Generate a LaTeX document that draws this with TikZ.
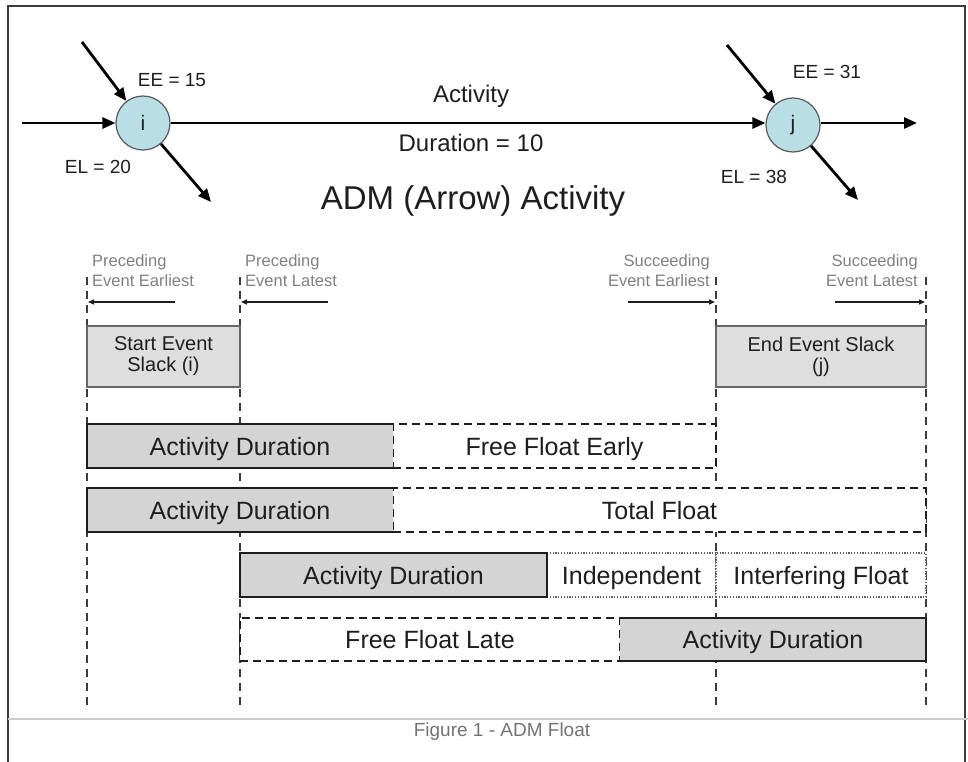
\documentclass[tikz,border=0pt]{standalone}
\usepackage{fontspec}
\setmainfont{Liberation Sans}
\usetikzlibrary{arrows.meta}
\definecolor{nodeblue}{HTML}{B9DEE6}
\definecolor{boxgray}{HTML}{D4D4D4}
\definecolor{slackgray}{HTML}{DEDEDE}
\definecolor{framegray}{HTML}{3C3C3C}
\definecolor{txtgray}{HTML}{808080}
\definecolor{dk}{HTML}{1E1E1E}
\newcommand{\fs}[2]{\fontsize{#1}{#2}\selectfont}
\tikzset{
  x=1pt, y=-1pt,
  evnode/.style={circle, draw=gray!70!black, line width=1.2pt, fill=nodeblue, minimum size=54pt, inner sep=0pt, font=\fs{21}{24}, text=dk},
  bigarrow/.style={line width=2.8pt, -{Triangle[length=13pt,width=11pt]}},
  lbl/.style={font=\fs{19}{22}, text=dk, inner sep=0pt},
  smalllbl/.style={font=\fs{16.5}{20}, text=txtgray, inner sep=0pt, align=left},
  smallarrow/.style={line width=1.4pt, draw=dk, -{Triangle[length=6pt,width=5pt]}},
  guide/.style={line width=2pt, draw=framegray, dash pattern=on 8pt off 6pt},
  basebox/.style={rectangle, inner sep=0pt, outer sep=0pt, text=dk},
  rowbox/.style={basebox, font=\fs{25}{30}, text height=18pt, text depth=0pt},
  actbox/.style={rowbox, fill=boxgray},
  slackbox/.style={basebox, fill=slackgray, draw=gray!80!black, line width=1.2pt, font=\fs{20}{21}, align=center},
  dashbox/.style={rowbox, fill=white, draw=dk, line width=1.6pt, dash pattern=on 8pt off 5pt},
  dotbox/.style={rowbox, fill=white, draw=gray!75!black, line width=1.4pt, dash pattern=on 1.2pt off 1.6pt},
  actedge/.style={line width=2.4pt, draw=dk},
}
\begin{document}
\begin{tikzpicture}
\useasboundingbox (0,0) rectangle (968,762);
% frame
\draw[framegray, line width=2pt] (8,762) -- (8,6) -- (965,6) -- (965,762);
\draw[gray!40, line width=1.5pt] (8,719) -- (968,719);
\node[font=\fs{19}{22}, text=gray!90!black] (cap) at (502,732) {Figure 1 - ADM Float};

% top network
\node[evnode] (i) at (143,123) {i};
\node[evnode] (j) at (793,125) {j};
\coordinate (iin1) at (22,123);
\coordinate (iin2) at (82,42);
\coordinate (iout) at (211,202);
\coordinate (jin) at (727,45);
\coordinate (jout1) at (917,123);
\coordinate (jout2) at (858,200);
\draw[bigarrow] (iin1) -- (i);
\draw[bigarrow] (iin2) -- (i);
\draw[bigarrow] (i) -- (iout);
\draw[bigarrow] (i.east) -- (j.west|-i.east);
\draw[bigarrow] (jin) -- (j);
\draw[bigarrow] (j.east|-i.east) -- (jout1);
\draw[bigarrow] (j) -- (jout2);
\node[lbl] (ee15) at (172,80) {EE = 15};
\node[lbl] (el20) at (98,167) {EL = 20};
\node[lbl] (ee31) at (827,72) {EE = 31};
\node[lbl] (el38) at (754,177) {EL = 38};
\node[font=\fs{24}{28}, text=dk] (act) at (471,96) {Activity};
\node[font=\fs{24}{28}, text=dk] (dur) at (471,143) {Duration = 10};
\node[font=\fs{33}{38}, text=dk] (title) at (473,201) {ADM (Arrow) Activity};

% guide lines
\foreach \n/\x in {ga/87, gb/240, gc/716, gd/926}{
  \coordinate (\n top) at (\x,277);
  \coordinate (\n bot) at (\x,706);
  \draw[guide] (\n top) -- (\n bot);
}

% small labels and arrows
\node[smalllbl, anchor=north west] (pe) at (92,254) {Preceding\\Event Earliest};
\node[smalllbl, anchor=north west] (pl) at (245,254) {Preceding\\Event Latest};
\node[smalllbl, anchor=north east, align=right] (se) at (710,254) {Succeeding\\Event Earliest};
\node[smalllbl, anchor=north east, align=right] (sl) at (918,254) {Succeeding\\Event Latest};
\coordinate (pea) at (175,302); \coordinate (peb) at (88,302);
\coordinate (pla) at (328,302); \coordinate (plb) at (241,302);
\coordinate (sea) at (628,302); \coordinate (seb) at (715,302);
\coordinate (sla) at (835,302); \coordinate (slb) at (925,302);
\draw[smallarrow] (pea) -- (peb);
\draw[smallarrow] (pla) -- (plb);
\draw[smallarrow] (sea) -- (seb);
\draw[smallarrow] (sla) -- (slb);

% slack boxes
\node[slackbox, minimum width=153pt, minimum height=61pt] (ss) at (163.5,356.5) {Start Event\\Slack (i)};
\node[slackbox, minimum width=210pt, minimum height=61pt] (es) at (821,356.5) {End Event Slack\\(j)};

% row 1
\node[dashbox, minimum width=323pt, minimum height=44pt] (ffe) at (554.5,446) {Free Float Early};
\node[actbox, minimum width=306pt, minimum height=44pt] (a1) at (240,446) {Activity Duration};
\draw[actedge] (a1.north east) -- (a1.north west) -- (a1.south west) -- (a1.south east);

% row 2
\node[dashbox, minimum width=533pt, minimum height=44pt] (tf) at (659.5,510) {Total Float};
\node[actbox, minimum width=306pt, minimum height=44pt] (a2) at (240,510) {Activity Duration};
\draw[actedge] (a2.north east) -- (a2.north west) -- (a2.south west) -- (a2.south east);

% row 3
\node[dotbox, minimum width=169pt, minimum height=44pt] (ind) at (631.5,575) {Independent};
\node[dotbox, minimum width=210pt, minimum height=44pt] (intf) at (821,575) {Interfering Float};
\node[actbox, minimum width=307pt, minimum height=44pt] (a3) at (393.5,575) {Activity Duration};
\draw[actedge] (a3.north west) rectangle (a3.south east);

% row 4
\node[dashbox, minimum width=380pt, minimum height=43pt] (ffl) at (430,639.5) {Free Float Late};
\node[actbox, minimum width=306pt, minimum height=43pt] (a4) at (773,639.5) {Activity Duration};
\draw[actedge] (a4.north west) -- (a4.north east) -- (a4.south east) -- (a4.south west);
\end{tikzpicture}
\end{document}
